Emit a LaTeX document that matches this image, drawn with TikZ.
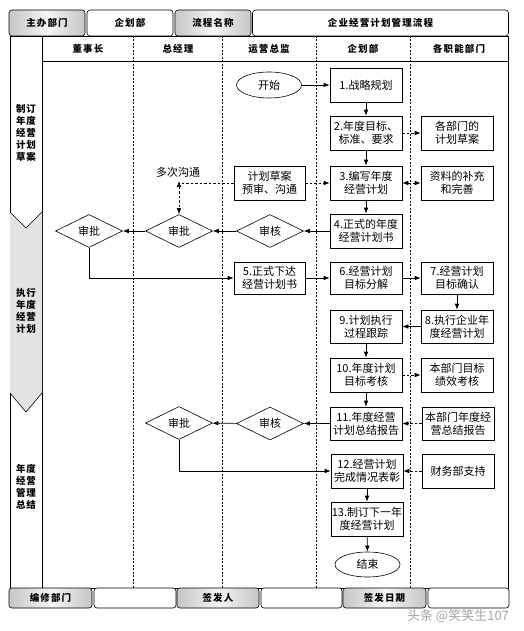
\documentclass[tikz,border=0pt]{standalone}
\usepackage{fontspec}
\setmainfont{Noto Sans CJK SC}
\usetikzlibrary{shapes.geometric,arrows.meta}
\begin{document}
\begin{tikzpicture}[x=1pt,y=-1pt,
  line width=0.6pt,
  box/.style={draw, minimum width=72pt, minimum height=34pt, inner sep=1pt, align=center, font=\fontsize{11}{13}\selectfont},
  dia/.style={draw, diamond, aspect=2, minimum width=67pt, minimum height=33pt, inner sep=0pt, font=\fontsize{11}{13}\selectfont},
  term/.style={draw, ellipse, minimum width=65pt, minimum height=26pt, inner sep=0pt, font=\fontsize{11}{13}\selectfont},
  arr/.style={-{Latex[length=6pt,width=4.5pt]}},
  darr/.style={arr, dash pattern=on 2.5pt off 2pt},
  dline/.style={dash pattern=on 2.5pt off 2pt},
  lane/.style={dash pattern=on 2pt off 1.5pt, line width=0.5pt},
  hgray/.style={draw, rounded corners=3pt, left color=gray!45, right color=gray!45, middle color=gray!8, font=\fontsize{9.5}{11}\selectfont\bfseries\addfontfeature{LetterSpace=12}, inner sep=0pt},
  hwhite/.style={draw, rounded corners=3pt, fill=white, font=\fontsize{9.5}{11}\selectfont\bfseries\addfontfeature{LetterSpace=12}, inner sep=0pt},
  colhead/.style={font=\fontsize{9.5}{11}\selectfont\bfseries\addfontfeature{LetterSpace=12}},
  phase/.style={align=center, font=\fontsize{9.5}{12}\selectfont\bfseries\addfontfeature{LetterSpace=8}}
]
\useasboundingbox (0,0) rectangle (523,631);
\fill[white] (0,0) rectangle (523,631);

% header row
\node[hgray, minimum width=76pt, minimum height=26pt] (hA) at (47,23) {主办部门};
\node[hwhite, minimum width=86pt, minimum height=26pt] (hB) at (130,23) {企划部};
\node[hgray, minimum width=76pt, minimum height=26pt] (hC) at (213,23) {流程名称};
\node[hwhite, minimum width=256pt, minimum height=26pt] (hD) at (380.5,23) {企业经营计划管理流程};

% frame
\draw (10,36) rectangle (508,588);
\draw (42,36) -- (42,588);
\draw (42,61) -- (508,61);

% phase column
\fill[gray!22] (10,212) -- (26,228) -- (42,212) -- (42,393) -- (26,412) -- (10,393) -- cycle;
\draw (10,212) -- (26,228) -- (42,212);
\draw (10,393) -- (26,412) -- (42,393);
\node[phase] (ph1) at (26,133) {制订\\年度\\经营\\计划\\草案};
\node[phase] (ph2) at (26,311) {执行\\年度\\经营\\计划};
\node[phase] (ph3) at (26,487) {年度\\经营\\管理\\总结};

% lanes
\foreach \x in {133,222,316,410} \draw[lane] (\x,36) -- (\x,588);
\node[colhead] (c1h) at (88,49) {董事长};
\node[colhead] (c2h) at (178,49) {总经理};
\node[colhead] (c3h) at (269,49) {运营总监};
\node[colhead] (c4h) at (363,49) {企划部};
\node[colhead] (c5h) at (459,49) {各职能部门};

% nodes
\node[term] (start) at (269,85) {开始};
\node[box] (n1) at (366,85) {1.战略规划};
\node[box] (n2) at (366,133) {2.年度目标、\\标准、要求};
\node[box] (d2) at (457,133) {各部门的\\计划草案};
\node[box] (n3) at (366,183) {3.编写年度\\经营计划};
\node[box] (d3) at (457,183) {资料的补充\\和完善};
\node[box, minimum width=71pt] (p3) at (269.5,183) {计划草案\\预审、沟通};
\node[box] (n4) at (366,231) {4.正式的年度\\经营计划书};
\node[dia] (rv1) at (270,231) {审核};
\node[dia] (ap1) at (179,231) {审批};
\node[dia] (ap0) at (89,231) {审批};
\node[font=\fontsize{11}{13}\selectfont] (talk) at (178,172) {多次沟通};
\node[box, minimum width=71pt, minimum height=32pt] (n5) at (269.5,278) {5.正式下达\\经营计划书};
\node[box, minimum height=32pt] (n6) at (366,278) {6.经营计划\\目标分解};
\node[box, minimum height=32pt] (n7) at (457,278) {7.经营计划\\目标确认};
\node[box, minimum height=33pt] (n8) at (457,326.5) {8.执行企业年\\度经营计划};
\node[box, minimum height=33pt] (n9) at (366,326.5) {9.计划执行\\过程跟踪};
\node[box] (n10) at (366,375) {10.年度计划\\目标考核};
\node[box] (d10) at (457,375) {本部门目标\\绩效考核};
\node[box, minimum height=33pt] (n11) at (366,423.5) {11.年度经营\\计划总结报告};
\node[box, minimum height=33pt] (d11) at (458,423.5) {本部门年度经\\营总结报告};
\node[dia] (rv2) at (270,423.5) {审核};
\node[dia] (ap2) at (179,423) {审批};
\node[box] (n12) at (367,471) {12.经营计划\\完成情况表彰};
\node[box] (d12) at (458,471) {财务部支持};
\node[box] (n13) at (367,519) {13.制订下一年\\度经营计划};
\node[term, minimum height=25pt] (end) at (367.5,564.5) {结束};

% connectors
\draw[arr] (start) -- (n1);
\draw[arr] (n1) -- (n2);
\draw[arr] (n2) -- (n3);
\draw[arr] (n3) -- (n4);
\draw[darr] (n2) -- (d2);
\draw[darr, {Latex[length=6pt,width=4.5pt]}-{Latex[length=6pt,width=4.5pt]}] (n3) -- (d3);
\draw[darr] (p3) -- (n3);
\coordinate (cm) at (ap1.north |- p3.west);
\draw[dline] (p3.west) -- (cm);
\draw[darr, {Latex[length=6pt,width=4.5pt]}-{Latex[length=6pt,width=4.5pt]}] ([yshift=2pt]cm) -- (ap1.north);
\draw[arr] (n4) -- (rv1);
\draw[arr] (rv1) -- (ap1);
\draw[arr] (ap1) -- (ap0);
\draw[arr] (ap0.south) -- (ap0.south |- n5.west) -- (n5.west);
\draw[arr] (n5) -- (n6);
\draw[arr] (n6) -- (n7);
\draw[arr] (n7) -- (n8);
\draw[arr] (n8) -- (n9);
\draw[arr] (n9) -- (n10);
\draw[arr] (n10) -- (n11);
\draw[darr] (n10) -- (d10);
\draw[darr] (d11) -- (n11);
\draw[arr] (n11) -- (rv2);
\draw[arr] (rv2) -- (ap2);
\draw[arr] (ap2.south) -- (ap2.south |- n12.west) -- (n12.west);
\draw[darr] (d12) -- (n12);
\draw[arr] (n12) -- (n13);
\draw[arr] (n13) -- (end);

% footer row
\node[hgray, minimum width=83pt, minimum height=20pt] (fA) at (50.5,598) {编修部门};
\node[hwhite, minimum width=82pt, minimum height=20pt] (fB) at (135,598) {};
\node[hgray, minimum width=82pt, minimum height=20pt] (fC) at (218,598) {签发人};
\node[hwhite, minimum width=81pt, minimum height=20pt] (fD) at (301.5,598) {};
\node[hgray, minimum width=83pt, minimum height=20pt] (fE) at (384.5,598) {签发日期};
\node[hwhite, minimum width=81pt, minimum height=20pt] (fF) at (468.5,598) {};

% watermark
\node[text=gray!70, font=\fontsize{13}{15}\selectfont] (wm) at (458,616) {头条 @笑笑生107};
\end{tikzpicture}
\end{document}
